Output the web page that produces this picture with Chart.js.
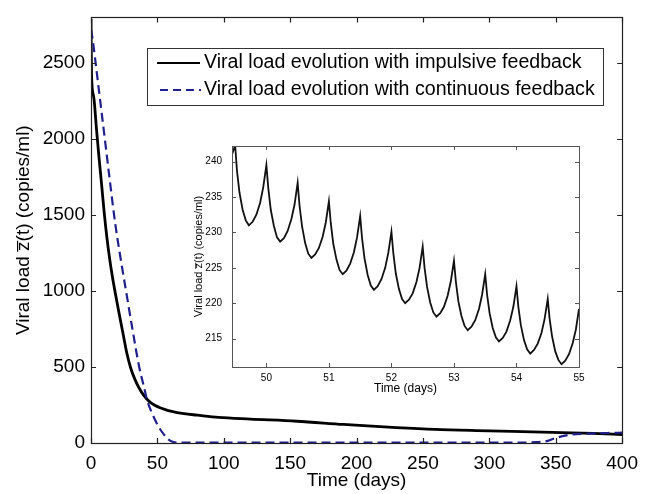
<!DOCTYPE html>
<html>
<head>
<meta charset="utf-8">
<script src="https://cdn.jsdelivr.net/npm/chart.js@4.4.1/dist/chart.umd.min.js"></script>
<style>
  html, body { margin: 0; padding: 0; background: #fff; }
  #wrap { position: relative; width: 647px; height: 494px; }
  #mainChart { position: absolute; left: 0; top: 0; }
  #insetChart { position: absolute; left: 180px; top: 130px; }
</style>
</head>
<body>
<div id="wrap">
  <canvas id="mainChart" width="647" height="494"></canvas>
  <canvas id="insetChart" width="410" height="275"></canvas>
</div>
<script>
// values
const impulsiveDays = [0, 0.4, 2, 4, 6, 8, 10, 12, 14, 16, 18, 21, 24, 27, 30, 33, 36, 40, 44, 48, 52, 56, 60, 70, 80, 96, 120, 155, 190, 230, 259, 300, 340, 378, 400];
const impulsiveLoad = [2790, 2420, 2280, 2080, 1880, 1700, 1510, 1350, 1215, 1100, 1000, 860, 725, 590, 490, 420, 365, 310, 272, 248, 232, 220, 210, 193, 183, 168, 157, 143, 122, 101, 89, 80, 71, 63, 56];

const continuousDays = [0, 1, 5, 10, 14, 18.3, 22, 26.4, 31, 36.3, 40, 42.4, 46, 51, 55, 58, 62, 66, 100, 200, 320, 335, 342, 349, 355, 362, 375, 390, 400];
const continuousLoad = [2720, 2670, 2390, 2030, 1740, 1440, 1230, 1000, 760, 500, 365, 277, 195, 106, 55, 25, 6, 2, 2, 2, 2, 6, 10, 30, 45, 56, 62, 66, 68];

const insetDays = [
  49.45, 49.50, 49.53, 49.57, 49.62, 49.67, 49.72, 49.78, 49.84, 49.90, 49.95,
  50.00, 50.03, 50.07, 50.12, 50.17, 50.22, 50.28, 50.34, 50.40, 50.45,
  50.50, 50.53, 50.57, 50.62, 50.67, 50.72, 50.78, 50.84, 50.90, 50.95,
  51.00, 51.03, 51.07, 51.12, 51.17, 51.22, 51.28, 51.34, 51.40, 51.45,
  51.50, 51.53, 51.57, 51.62, 51.67, 51.72, 51.78, 51.84, 51.90, 51.95,
  52.00, 52.03, 52.07, 52.12, 52.17, 52.22, 52.28, 52.34, 52.40, 52.45,
  52.50, 52.53, 52.57, 52.62, 52.67, 52.72, 52.78, 52.84, 52.90, 52.95,
  53.00, 53.03, 53.07, 53.12, 53.17, 53.22, 53.28, 53.34, 53.40, 53.45,
  53.50, 53.53, 53.57, 53.62, 53.67, 53.72, 53.78, 53.84, 53.90, 53.95,
  54.00, 54.03, 54.07, 54.12, 54.17, 54.22, 54.28, 54.34, 54.40, 54.45,
  54.50, 54.53, 54.57, 54.62, 54.67, 54.72, 54.78, 54.84, 54.90, 54.95,
  55.00
];
const insetLoad = [
  241.0, 242.3, 238.7, 235.6, 233.2, 231.7, 231.0, 231.5, 232.5, 234.2, 236.4,
  239.5, 236.3, 233.2, 230.9, 229.3, 228.7, 229.2, 230.2, 231.9, 233.9,
  237.0, 233.8, 230.9, 228.5, 227.0, 226.4, 226.9, 227.8, 229.4, 231.4,
  234.4, 231.3, 228.4, 226.2, 224.7, 224.1, 224.6, 225.6, 227.2, 229.3,
  232.3, 229.2, 226.3, 224.0, 222.5, 221.9, 222.4, 223.4, 225.0, 227.1,
  230.1, 227.1, 224.2, 222.0, 220.6, 220.0, 220.5, 221.4, 223.0, 225.0,
  228.0, 225.0, 222.3, 220.1, 218.7, 218.1, 218.6, 219.5, 221.1, 223.1,
  226.0, 223.1, 220.3, 218.2, 216.8, 216.2, 216.7, 217.6, 219.2, 221.2,
  224.1, 221.2, 218.6, 216.5, 215.2, 214.6, 215.1, 216.0, 217.6, 219.5,
  222.4, 219.5, 216.9, 214.8, 213.5, 212.9, 213.4, 214.3, 215.8, 217.8,
  220.6, 217.8, 215.3, 213.2, 212.0, 211.4, 211.9, 212.8, 214.4, 216.3,
  219.2
];

const mainXTicks = [0, 50, 100, 150, 200, 250, 300, 350, 400];
const mainYTicks = [0, 500, 1000, 1500, 2000, 2500];
const insetXTicks = [50, 51, 52, 53, 54, 55];
const insetYTicks = [215, 220, 225, 230, 235, 240];

const legendLabels = [
  'Viral load evolution with impulsive feedback',
  'Viral load evolution with continuous feedback'
];

const FONT = "'Liberation Sans', Arial, Helvetica, sans-serif";
const NAVY = '#20208c';

const toPoints = (xs, ys) => xs.map((x, i) => ({ x, y: ys[i] }));

// Matlab style box with inward ticks on all four sides
function boxPlugin(color, len, width) {
  return {
    id: 'box',
    beforeDatasetsDraw(chart) {
      const { ctx, chartArea: a } = chart;
      ctx.save();
      ctx.fillStyle = '#fff';
      ctx.fillRect(a.left, a.top, a.width, a.height);
      ctx.restore();
    },
    afterDatasetsDraw(chart) {
      const { ctx, chartArea: a, scales: { x, y } } = chart;
      ctx.save();
      ctx.strokeStyle = color;
      ctx.lineWidth = width;
      ctx.beginPath();
      x.ticks.forEach(t => {
        const px = Math.round(x.getPixelForValue(t.value)) + 0.5;
        ctx.moveTo(px, a.bottom); ctx.lineTo(px, a.bottom - len);
        ctx.moveTo(px, a.top); ctx.lineTo(px, a.top + len);
      });
      y.ticks.forEach(t => {
        const py = Math.round(y.getPixelForValue(t.value)) + 0.5;
        ctx.moveTo(a.left, py); ctx.lineTo(a.left + len, py);
        ctx.moveTo(a.right, py); ctx.lineTo(a.right - len, py);
      });
      ctx.stroke();
      ctx.strokeRect(Math.round(a.left) + 0.5, Math.round(a.top) + 0.5,
        Math.round(a.width), Math.round(a.height));
      ctx.restore();
    }
  };
}

const legendBox = {
  id: 'legendBox',
  afterDraw(chart) {
    const ctx = chart.ctx;
    ctx.save();
    ctx.fillStyle = '#fff';
    ctx.fillRect(147, 48, 456, 57);
    ctx.strokeStyle = '#333';
    ctx.lineWidth = 1;
    ctx.strokeRect(147.5, 48.5, 456, 57);

    ctx.lineWidth = 2;
    ctx.strokeStyle = '#000';
    ctx.beginPath(); ctx.moveTo(157, 63); ctx.lineTo(200, 63); ctx.stroke();
    ctx.strokeStyle = NAVY;
    ctx.setLineDash([8, 5]);
    ctx.beginPath(); ctx.moveTo(160, 90); ctx.lineTo(201, 90); ctx.stroke();
    ctx.setLineDash([]);

    ctx.fillStyle = '#000';
    ctx.font = '19.6px ' + FONT;
    ctx.textBaseline = 'middle';
    ctx.fillText(legendLabels[0], 204, 63);
    ctx.fillText(legendLabels[1], 204, 90);
    ctx.restore();
  }
};

new Chart(document.getElementById('mainChart'), {
  type: 'line',
  data: {
    datasets: [
      {
        label: legendLabels[0],
        data: toPoints(impulsiveDays, impulsiveLoad),
        borderColor: '#000',
        borderWidth: 2.8,
        pointRadius: 0,
        cubicInterpolationMode: 'monotone',
        order: 1
      },
      {
        label: legendLabels[1],
        data: toPoints(continuousDays, continuousLoad),
        borderColor: NAVY,
        borderWidth: 2.2,
        borderDash: [9, 5],
        pointRadius: 0,
        cubicInterpolationMode: 'monotone',
        order: 0
      }
    ]
  },
  options: {
    responsive: false,
    animation: false,
    devicePixelRatio: 1,
    layout: { padding: { left: 0, top: 12, right: 17, bottom: 0 } },
    plugins: { legend: { display: false }, tooltip: { enabled: false } },
    scales: {
      x: {
        type: 'linear', min: 0, max: 400,
        afterBuildTicks: s => { s.ticks = mainXTicks.map(v => ({ value: v })); },
        afterFit: s => { s.height = 51; },
        grid: { display: false, drawTicks: false },
        border: { display: false },
        ticks: { color: '#000', font: { family: FONT, size: 19 }, padding: 9, maxRotation: 0, autoSkip: false, callback: v => String(v) },
        title: { display: true, text: 'Time (days)', color: '#000', font: { family: FONT, size: 19 }, padding: { top: 0, bottom: 2 } }
      },
      y: {
        type: 'linear', min: 0, max: 2800,
        afterBuildTicks: s => { s.ticks = mainYTicks.map(v => ({ value: v })); },
        afterFit: s => { s.width = 91; },
        grid: { display: false, drawTicks: false },
        border: { display: false },
        ticks: { color: '#000', font: { family: FONT, size: 19 }, padding: 6, autoSkip: false, callback: v => String(v) },
        title: { display: true, text: 'Viral load z\u0305(t) (copies/ml)', color: '#000', font: { family: FONT, size: 19 }, padding: { top: 12, bottom: 0 } }
      }
    }
  },
  plugins: [boxPlugin('#222', 5, 1.2), legendBox]
});

new Chart(document.getElementById('insetChart'), {
  type: 'line',
  data: {
    datasets: [{
      data: toPoints(insetDays, insetLoad),
      borderColor: '#111',
      borderWidth: 1.8,
      pointRadius: 0,
      tension: 0
    }]
  },
  options: {
    responsive: false,
    animation: false,
    devicePixelRatio: 1,
    layout: { padding: { left: 0, top: 7, right: 11, bottom: 0 } },
    plugins: { legend: { display: false }, tooltip: { enabled: false } },
    scales: {
      x: {
        type: 'linear', min: 49.45, max: 55,
        afterBuildTicks: s => { s.ticks = insetXTicks.map(v => ({ value: v })); },
        afterFit: s => { s.height = 38; },
        grid: { display: false, drawTicks: false },
        border: { display: false },
        ticks: { color: '#000', font: { family: FONT, size: 10 }, padding: 5, maxRotation: 0, autoSkip: false, callback: v => String(v) },
        title: { display: true, text: 'Time (days)', color: '#000', font: { family: FONT, size: 12 }, padding: { top: 0, bottom: 9 } }
      },
      y: {
        type: 'linear', min: 211, max: 242.2,
        afterBuildTicks: s => { s.ticks = insetYTicks.map(v => ({ value: v })); },
        afterFit: s => { s.width = 52; },
        grid: { display: false, drawTicks: false },
        border: { display: false },
        ticks: { color: '#000', font: { family: FONT, size: 10 }, padding: 10, autoSkip: false, callback: v => String(v) },
        title: { display: true, text: 'Viral load z\u0305(t) (copies/ml)', color: '#000', font: { family: FONT, size: 11 }, padding: { top: 12, bottom: 0 } }
      }
    }
  },
  plugins: [boxPlugin('#555', 4, 1)]
});
</script>
</body>
</html>
